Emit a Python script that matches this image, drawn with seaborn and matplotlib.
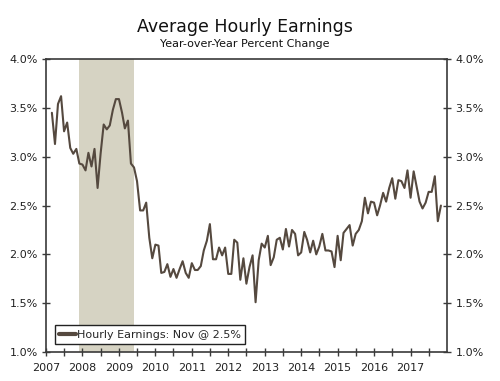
import pandas as pd
import matplotlib
matplotlib.use('Agg')
import matplotlib.pyplot as plt
import matplotlib.dates as mdates
from matplotlib.ticker import FuncFormatter
import seaborn as sns

# Du lieu: thay doi thu nhap theo gio (%, so voi cung ky), Mar 2007 - Nov 2017
start_month = '2007-03-01'
earnings = [
    3.45, 3.13, 3.54, 3.62, 3.26, 3.35, 3.09, 3.03, 3.08, 2.93,        # 2007
    2.92, 2.86, 3.04, 2.90, 3.08, 2.68, 3.03, 3.33, 3.28, 3.32, 3.48, 3.59,  # 2008
    3.59, 3.45, 3.29, 3.37, 2.93, 2.89, 2.75, 2.45, 2.45, 2.53, 2.17, 1.96,  # 2009
    2.10, 2.09, 1.81, 1.82, 1.90, 1.77, 1.85, 1.76, 1.85, 1.93, 1.81, 1.76,  # 2010
    1.91, 1.84, 1.84, 1.88, 2.04, 2.14, 2.31, 1.95, 1.95, 2.07, 1.99, 2.07,  # 2011
    1.80, 1.80, 2.15, 2.12, 1.74, 1.96, 1.70, 1.87, 1.99, 1.51, 1.94, 2.11,  # 2012
    2.07, 2.19, 1.89, 1.97, 2.15, 2.17, 2.05, 2.26, 2.08, 2.25, 2.21, 1.99,  # 2013
    2.02, 2.23, 2.15, 2.02, 2.14, 2.00, 2.08, 2.21, 2.04, 2.04, 2.03, 1.87,  # 2014
    2.19, 1.94, 2.22, 2.26, 2.30, 2.09, 2.21, 2.25, 2.34, 2.58, 2.42, 2.54,  # 2015
    2.53, 2.40, 2.50, 2.63, 2.54, 2.68, 2.78, 2.57, 2.76, 2.75, 2.68, 2.86,  # 2016
    2.58, 2.85, 2.70, 2.54, 2.47, 2.53, 2.64, 2.64, 2.80, 2.34, 2.50,        # 2017
]
recession_start = '2007-12-01'
recession_end = '2009-06-01'
year_labels = list(range(2007, 2018))
y_ticks = [1.0, 1.5, 2.0, 2.5, 3.0, 3.5, 4.0]
legend_label = 'Hourly Earnings: Nov @ 2.5%'

df = pd.DataFrame({
    'date': pd.date_range(start_month, periods=len(earnings), freq='MS'),
    'earnings': earnings,
})

sns.set_style('white')
plt.rcParams['font.family'] = ['DejaVu Sans']

line_color = '#55493f'
axis_color = '#3a3a3a'
shade_color = '#d6d3c3'

fig = plt.figure(figsize=(5, 3.81), dpi=100)
ax = fig.add_axes([0.092, 0.076, 0.802, 0.769])

ax.axvspan(pd.Timestamp(recession_start), pd.Timestamp(recession_end),
           color=shade_color, lw=0, zorder=0)
sns.lineplot(data=df, x='date', y='earnings', ax=ax, color=line_color,
             linewidth=1.5, label=legend_label)

ax.set_xlim(pd.Timestamp('2007-01-01'), pd.Timestamp('2018-01-01'))
ax.set_ylim(1.0, 4.0)
ax.set_xticks([pd.Timestamp(f'{y}-01-01') for y in year_labels])
ax.xaxis.set_major_formatter(mdates.DateFormatter('%Y'))
ax.xaxis.set_minor_locator(mdates.MonthLocator(bymonth=7))
ax.set_yticks(y_ticks)
ax.yaxis.set_major_formatter(FuncFormatter(lambda v, p: f'{v:.1f}%'))
ax.set_xlabel('')
ax.set_ylabel('')

for side in ['left', 'right', 'top', 'bottom']:
    ax.spines[side].set_visible(True)
    ax.spines[side].set_color(axis_color)
    ax.spines[side].set_linewidth(1.2)

ax.tick_params(axis='y', which='major', direction='inout', length=6, width=1,
               color=axis_color, labelsize=8, labelcolor='#222222',
               left=True, right=True, labelleft=True, labelright=True, pad=3)
ax.tick_params(axis='x', which='both', direction='inout', length=6, width=1,
               color=axis_color, labelsize=8, labelcolor='#222222',
               bottom=True, pad=5)

leg = ax.legend(loc='lower left', bbox_to_anchor=(0.022, 0.027), borderaxespad=0,
                fancybox=False, framealpha=1, edgecolor='#222222', fontsize=8,
                handlelength=1.5, handletextpad=0.1, borderpad=0.4)
leg.get_frame().set_linewidth(1.0)
for h in leg.get_lines():
    h.set_linewidth(3)

fig.text(0.49, 0.93, 'Average Hourly Earnings', ha='center', va='center',
         fontsize=12.5, color='#111111')
fig.text(0.49, 0.885, 'Year-over-Year Percent Change', ha='center', va='center',
         fontsize=8, color='#111111')

fig.savefig('out.png', dpi=100)
